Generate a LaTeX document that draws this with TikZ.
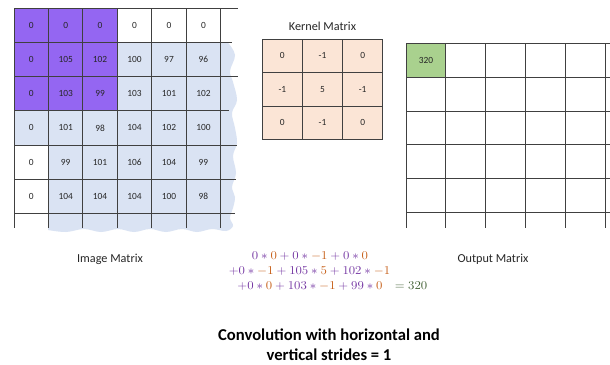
\documentclass[tikz,border=0pt]{standalone}
\usepackage{fontspec}
\usepackage{graphicx}
\setmainfont{Carlito}
\usetikzlibrary{calc}
\definecolor{imgblue}{HTML}{DAE3F3}
\definecolor{winpurple}{HTML}{9466F2}
\definecolor{kernpeach}{HTML}{FBE5D6}
\definecolor{outgreen}{HTML}{A9D18E}
\definecolor{gridline}{HTML}{404040}
\definecolor{cellink}{HTML}{262626}
\definecolor{eqpurple}{HTML}{7030A0}
\definecolor{eqorange}{HTML}{C55A11}
\definecolor{eqgreen}{HTML}{3A5A2C}
\newcommand\kv[1]{{\color{eqorange}#1}}
\newcommand\wideeq[1]{\scalebox{1.08}[1]{#1}}
\tikzset{
  cellnum/.style={text=cellink,font=\fontsize{9.4}{11}\selectfont,inner sep=0pt},
  gridrule/.style={draw=gridline,line width=0.9pt},
  caption/.style={text=cellink,font=\fontsize{12.2}{14}\selectfont,inner sep=0pt},
  eqline/.style={text=eqpurple,font=\fontsize{12.3}{14}\selectfont,inner sep=0pt},
  headline/.style={text=black,font=\fontsize{16.6}{20}\selectfont\bfseries,align=center,inner sep=0pt}
}
\begin{document}
\begin{tikzpicture}[x=1pt,y=-1pt]
\useasboundingbox (0,0) rectangle (610,364);
\fill[white] (0,0) rectangle (610,364);

% ---------- image matrix ----------
% torn light-blue sheet behind the pixel values
\fill[imgblue] (14,145) -- (14,42.7) --
  plot[smooth,tension=0.6] coordinates {(228,42.7) (235,55) (230,71) (233,82) (237,100)
    (232,113) (235,128) (237,143) (233,156) (236,173) (232,187) (235,197) (233,208)
    (230,218) (233,226) (226,231) (212,229) (197,232) (182,229) (166,232) (150,229)
    (134,232) (118,229) (101,232) (84,229) (66,232) (48,230)}
  -- (48,145) -- cycle;
% 3x3 window under the kernel
\fill[winpurple] (14,8.3) rectangle (117.35,110.8);
% grid lines
\foreach \i in {0,...,6}
  \draw[gridrule] ({14+34.45*\i},8.3) -- ({14+34.45*\i},228);
\foreach \j/\e in {0/238,1/232,2/238,3/229,4/237,5/236,6/235}
  \draw[gridrule] (14,{8.3+34.17*\j}) -- (\e,{8.3+34.17*\j});
% pixel values
\foreach \row [count=\r from 0] in {
    {0,0,0,0,0,0},
    {0,105,102,100,97,96},
    {0,103,99,103,101,102},
    {0,101,98,104,102,100},
    {0,99,101,106,104,99},
    {0,104,104,104,100,98}}
  \foreach \v [count=\c from 0] in \row
    \node[cellnum] (img-\r-\c) at ({14+34.45*\c+17.2},{8.3+34.17*\r+17.1}) {\v};
\node[caption] (imglabel) at (110,259) {Image Matrix};

% ---------- kernel matrix ----------
\fill[kernpeach] (262.3,39.3) rectangle (382.7,139.3);
\foreach \i in {0,...,3}{
  \draw[gridrule] ({262.3+40.13*\i},39.3) -- ({262.3+40.13*\i},139.3);
  \draw[gridrule] (262.3,{39.3+33.33*\i}) -- (382.7,{39.3+33.33*\i});
}
\foreach \row [count=\r from 0] in {{0,-1,0},{-1,5,-1},{0,-1,0}}
  \foreach \v [count=\c from 0] in \row
    \node[cellnum] (ker-\r-\c) at ({262.3+40.13*\c+20.07},{39.3+33.33*\r+16.67}) {\v};
\node[caption] (kerlabel) at (322.5,26) {Kernel Matrix};

% ---------- output matrix ----------
\fill[outgreen] (406,43.3) rectangle (445.9,77.2);
\foreach \i in {0,...,5}
  \draw[gridrule] ({406+39.94*\i},43.3) -- ({406+39.94*\i},228);
\foreach \j in {0,...,5}
  \draw[gridrule] (406,{43.3+33.88*\j}) -- (610,{43.3+33.88*\j});
\node[cellnum] (out-0-0) at (425.9,60.3) {320};
\node[caption] (outlabel) at (493,259) {Output Matrix};

% ---------- worked sum ----------
\node[eqline] (sum1) at (310,256)
  {\wideeq{$0*\kv{0}+0*\kv{-1}+0*\kv{0}$}};
\node[eqline] (sum2) at (309.5,271.4)
  {\wideeq{$+0*\kv{-1}+105*\kv{5}+102*\kv{-1}$}};
\node[eqline] (sum3) at (310,286)
  {\wideeq{$+0*\kv{0}+103*\kv{-1}+99*\kv{0}$}};
\node[eqline,text=eqgreen] (result) at (411,286) {\wideeq{$=320$}};

% ---------- heading ----------
\node[headline] (title) at (329,345)
  {Convolution with horizontal and\\vertical strides = 1};
\end{tikzpicture}
\end{document}
